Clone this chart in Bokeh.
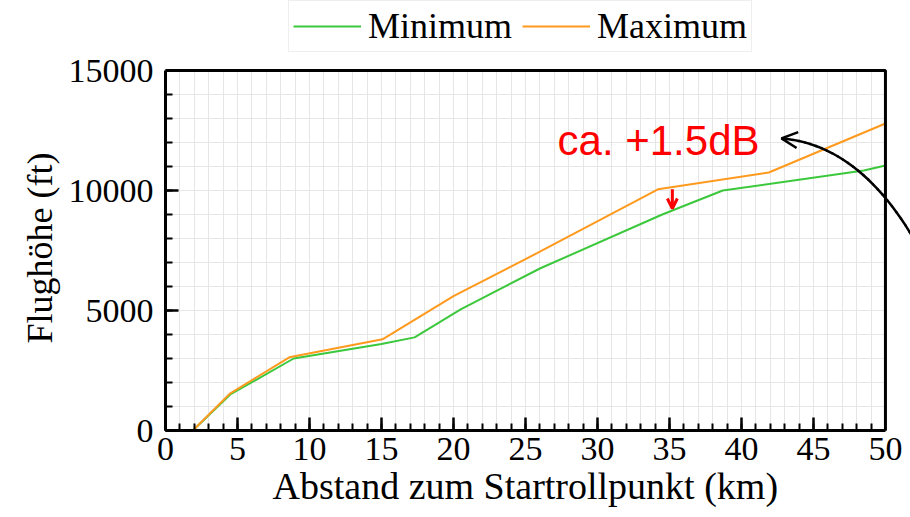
from bokeh.plotting import figure
from bokeh.models import (Range1d, SingleIntervalTicker, Legend, LegendItem,
                          Arrow, OpenHead, Label, BoxAnnotation, Title)
from bokeh.embed import file_html
from bokeh.resources import INLINE

# Altitude profiles over distance from brake release
dist_min = [1.9, 4.5, 8.9, 15.0, 17.3, 20.5, 26.0, 34.5, 38.7, 48.5, 50.0]
alt_min = [0, 1500, 3000, 3600, 3880, 5050, 6750, 9000, 10000, 10830, 11040]

dist_max = [1.9, 4.5, 8.6, 15.07, 20.0, 26.0, 34.2, 41.9, 50.0]
alt_max = [0, 1550, 3050, 3800, 5600, 7450, 10050, 10750, 12790]

series_labels = ["Minimum", "Maximum"]
series_colors = ["#3cc83c", "#ff9a1e"]

x_title = "Abstand zum Startrollpunkt (km)"
y_title = "Flughöhe (ft)"
note_text = "ca. +1.5dB"

X_LIM = (0, 50)
Y_LIM = (0, 15000)
# the drawing area runs on to the top and right page edges so that the
# legend and the curved pointer can sit outside the axes box
X_VIEW_END = 51.74
Y_VIEW_END = 17917

SERIF = "Liberation Serif"

p = figure(width=910, height=517, output_backend="svg", toolbar_location=None,
           x_range=Range1d(0, X_VIEW_END), y_range=Range1d(0, Y_VIEW_END),
           min_border_left=165, min_border_right=0,
           min_border_top=0, min_border_bottom=87)
p.background_fill_color = "white"
p.border_fill_color = "white"
p.outline_line_color = None

p.xaxis.ticker = SingleIntervalTicker(interval=5, num_minor_ticks=5)
p.yaxis.ticker = SingleIntervalTicker(interval=5000, num_minor_ticks=5)
p.xaxis.bounds = X_LIM
p.yaxis.bounds = Y_LIM
p.xgrid.ticker = SingleIntervalTicker(interval=1)
p.ygrid.ticker = SingleIntervalTicker(interval=1000)
for g in (p.xgrid, p.ygrid):
    g.grid_line_color = "#e6e6e6"
    g.grid_line_width = 1

for ax in (p.xaxis, p.yaxis):
    ax.axis_line_width = 3
    ax.axis_line_color = "black"
    ax.major_tick_in = 13
    ax.major_tick_out = 0
    ax.minor_tick_in = 7
    ax.minor_tick_out = 0
    ax.major_tick_line_width = 2.5
    ax.minor_tick_line_width = 2
    ax.major_label_text_font = SERIF
    ax.major_label_text_font_size = "34px"
    ax.major_label_text_color = "black"
p.xaxis.major_label_standoff = 7
p.yaxis.major_label_standoff = 12

# axis titles centred on the axes box rather than on the whole drawing area
p.add_layout(Title(text=y_title, align="left", offset=87, standoff=11,
                   text_font=SERIF, text_font_size="36px",
                   text_font_style="normal", text_color="black"), "left")
p.add_layout(Title(text=x_title, align="left", offset=107, standoff=0,
                   vertical_align="bottom", text_line_height=0.8,
                   text_font=SERIF, text_font_size="38px",
                   text_font_style="normal", text_color="black"), "below")

# white masks hide the grid outside the axes box
p.add_layout(BoxAnnotation(bottom=Y_LIM[1], fill_color="white", fill_alpha=1,
                           line_alpha=0))
p.add_layout(BoxAnnotation(left=X_LIM[1], fill_color="white", fill_alpha=1,
                           line_alpha=0))
# axes box
p.add_layout(BoxAnnotation(left=X_LIM[0], right=X_LIM[1], bottom=Y_LIM[0], top=Y_LIM[1],
                           fill_alpha=0, line_color="black", line_width=3,
                           line_alpha=1))

r_min = p.line(dist_min, alt_min, line_color=series_colors[0], line_width=2)
r_max = p.line(dist_max, alt_max, line_color=series_colors[1], line_width=2)

legend = Legend(items=[LegendItem(label=series_labels[0], renderers=[r_min]),
                       LegendItem(label=series_labels[1], renderers=[r_max])],
                location=(123, 378), orientation="horizontal",
                label_text_font=SERIF, label_text_font_size="36px",
                label_text_color="black",
                glyph_width=68, label_standoff=7, spacing=10,
                padding=4, margin=0,
                border_line_color="#dddddd", border_line_width=1.5,
                background_fill_color="white", background_fill_alpha=1)
p.add_layout(legend)

# red callout: level change between the two profiles
p.add_layout(Label(x=34.24, y=12080, text=note_text, text_color="red",
                   text_font="Liberation Sans", text_font_size="42px",
                   text_align="center", text_baseline="alphabetic"))
p.add_layout(Arrow(x_start=35.2, y_start=10050, x_end=35.2, y_end=9250,
                   line_color="red", line_width=3,
                   end=OpenHead(size=10, line_color="red", line_width=3)))

# curved black pointer coming in from the right edge (quadratic Bezier)
bx = [53.13, 48.96, 42.78]
by = [6670, 11875, 12170]
n_seg = 30
pts = []
for i in range(n_seg + 1):
    t = i / n_seg
    a, b, c = (1 - t) ** 2, 2 * t * (1 - t), t ** 2
    pts.append((a * bx[0] + b * bx[1] + c * bx[2], a * by[0] + b * by[1] + c * by[2]))
for i in range(n_seg):
    (x0, y0), (x1, y1) = pts[i], pts[i + 1]
    head = OpenHead(size=16, line_color="black", line_width=2.5) if i == n_seg - 1 else None
    p.add_layout(Arrow(x_start=x0, y_start=y0, x_end=x1, y_end=y1,
                       line_color="black", line_width=2.5, line_cap="round",
                       end=head))

open("out.html", "w").write(file_html(p, INLINE))
